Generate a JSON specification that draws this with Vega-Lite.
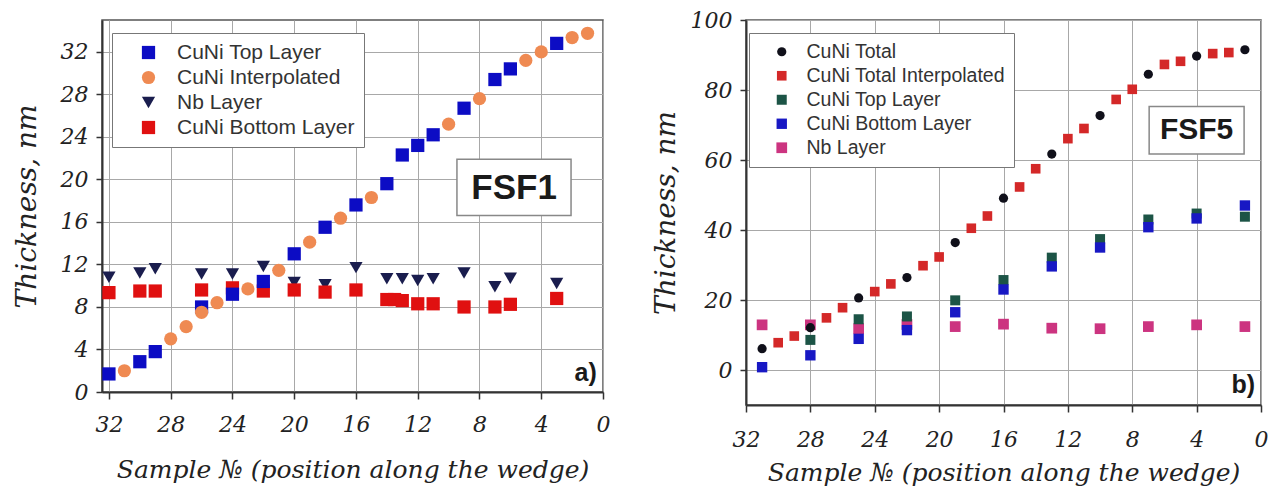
{
  "$schema": "https://vega.github.io/schema/vega-lite/v6.json",
  "background": "white",
  "padding": {"left": 12, "top": 8, "right": 0, "bottom": 0},
  "spacing": 40,
  "resolve": {
    "scale": {"x": "independent", "y": "independent", "color": "independent", "shape": "independent", "size": "independent"},
    "legend": {"color": "independent", "shape": "independent", "size": "independent"},
    "axis": {"x": "independent", "y": "independent"}
  },
  "config": {
    "view": {"stroke": "#555", "strokeWidth": 1.5},
    "axis": {
      "labelFont": "DejaVu Serif", "labelFontStyle": "italic", "labelFontSize": 22, "labelColor": "#222", "labelOverlap": false,
      "titleFont": "DejaVu Serif", "titleFontStyle": "italic", "titleFontSize": 25, "titleFontWeight": "normal", "titleColor": "#222",
      "domainColor": "#333", "domainWidth": 2, "tickColor": "#333", "tickWidth": 1.5, "gridWidth": 1
    },
    "legend": {
      "orient": "none", "title": null, "fillColor": "white", "strokeColor": "#777", "strokeWidth": 1,
      "labelFont": "Liberation Sans", "labelColor": "#333",
      "symbolStrokeWidth": 0, "padding": 9, "rowPadding": 3, "labelLimit": 400
    }
  },
  "datasets": {
    "fsf1": [
      {"series": "Nb Layer", "sample": 32, "thickness": 10.8},
      {"series": "Nb Layer", "sample": 30, "thickness": 11.2},
      {"series": "Nb Layer", "sample": 29, "thickness": 11.6},
      {"series": "Nb Layer", "sample": 26, "thickness": 11.1},
      {"series": "Nb Layer", "sample": 24, "thickness": 11.1},
      {"series": "Nb Layer", "sample": 22, "thickness": 11.8},
      {"series": "Nb Layer", "sample": 20, "thickness": 10.3},
      {"series": "Nb Layer", "sample": 18, "thickness": 10.1},
      {"series": "Nb Layer", "sample": 16, "thickness": 11.7},
      {"series": "Nb Layer", "sample": 14, "thickness": 10.65},
      {"series": "Nb Layer", "sample": 13, "thickness": 10.65},
      {"series": "Nb Layer", "sample": 12, "thickness": 10.5},
      {"series": "Nb Layer", "sample": 11, "thickness": 10.65},
      {"series": "Nb Layer", "sample": 9, "thickness": 11.2},
      {"series": "Nb Layer", "sample": 7, "thickness": 9.9},
      {"series": "Nb Layer", "sample": 6, "thickness": 10.7},
      {"series": "Nb Layer", "sample": 3, "thickness": 10.2},
      {"series": "CuNi Bottom Layer", "sample": 32, "thickness": 9.35},
      {"series": "CuNi Bottom Layer", "sample": 30, "thickness": 9.5},
      {"series": "CuNi Bottom Layer", "sample": 29, "thickness": 9.5},
      {"series": "CuNi Bottom Layer", "sample": 26, "thickness": 9.6},
      {"series": "CuNi Bottom Layer", "sample": 24, "thickness": 9.8},
      {"series": "CuNi Bottom Layer", "sample": 22, "thickness": 9.5},
      {"series": "CuNi Bottom Layer", "sample": 20, "thickness": 9.6},
      {"series": "CuNi Bottom Layer", "sample": 18, "thickness": 9.4},
      {"series": "CuNi Bottom Layer", "sample": 16, "thickness": 9.6},
      {"series": "CuNi Bottom Layer", "sample": 14, "thickness": 8.7},
      {"series": "CuNi Bottom Layer", "sample": 13.5, "thickness": 8.7},
      {"series": "CuNi Bottom Layer", "sample": 13, "thickness": 8.6},
      {"series": "CuNi Bottom Layer", "sample": 12, "thickness": 8.3},
      {"series": "CuNi Bottom Layer", "sample": 11, "thickness": 8.3},
      {"series": "CuNi Bottom Layer", "sample": 9, "thickness": 8.0},
      {"series": "CuNi Bottom Layer", "sample": 7, "thickness": 8.0},
      {"series": "CuNi Bottom Layer", "sample": 6, "thickness": 8.25},
      {"series": "CuNi Bottom Layer", "sample": 3, "thickness": 8.8},
      {"series": "CuNi Top Layer", "sample": 32, "thickness": 1.7},
      {"series": "CuNi Top Layer", "sample": 30, "thickness": 2.85},
      {"series": "CuNi Top Layer", "sample": 29, "thickness": 3.8},
      {"series": "CuNi Top Layer", "sample": 26, "thickness": 8.0},
      {"series": "CuNi Top Layer", "sample": 24, "thickness": 9.2},
      {"series": "CuNi Top Layer", "sample": 22, "thickness": 10.4},
      {"series": "CuNi Top Layer", "sample": 20, "thickness": 13.0},
      {"series": "CuNi Top Layer", "sample": 18, "thickness": 15.5},
      {"series": "CuNi Top Layer", "sample": 16, "thickness": 17.6},
      {"series": "CuNi Top Layer", "sample": 14, "thickness": 19.6},
      {"series": "CuNi Top Layer", "sample": 13, "thickness": 22.3},
      {"series": "CuNi Top Layer", "sample": 12, "thickness": 23.2},
      {"series": "CuNi Top Layer", "sample": 11, "thickness": 24.2},
      {"series": "CuNi Top Layer", "sample": 9, "thickness": 26.7},
      {"series": "CuNi Top Layer", "sample": 7, "thickness": 29.4},
      {"series": "CuNi Top Layer", "sample": 6, "thickness": 30.4},
      {"series": "CuNi Top Layer", "sample": 3, "thickness": 32.8},
      {"series": "CuNi Interpolated", "sample": 31, "thickness": 2.0},
      {"series": "CuNi Interpolated", "sample": 28, "thickness": 5.0},
      {"series": "CuNi Interpolated", "sample": 27, "thickness": 6.15},
      {"series": "CuNi Interpolated", "sample": 26, "thickness": 7.5},
      {"series": "CuNi Interpolated", "sample": 25, "thickness": 8.4},
      {"series": "CuNi Interpolated", "sample": 23, "thickness": 9.7},
      {"series": "CuNi Interpolated", "sample": 21, "thickness": 11.45},
      {"series": "CuNi Interpolated", "sample": 19, "thickness": 14.1},
      {"series": "CuNi Interpolated", "sample": 17, "thickness": 16.35},
      {"series": "CuNi Interpolated", "sample": 15, "thickness": 18.3},
      {"series": "CuNi Interpolated", "sample": 10, "thickness": 25.2},
      {"series": "CuNi Interpolated", "sample": 8, "thickness": 27.6},
      {"series": "CuNi Interpolated", "sample": 5, "thickness": 31.2},
      {"series": "CuNi Interpolated", "sample": 4, "thickness": 32.0},
      {"series": "CuNi Interpolated", "sample": 2, "thickness": 33.35},
      {"series": "CuNi Interpolated", "sample": 1, "thickness": 33.75}
    ],
    "fsf5": [
      {"series": "Nb Layer", "sample": 31, "thickness": 12.9},
      {"series": "Nb Layer", "sample": 28, "thickness": 12.9},
      {"series": "Nb Layer", "sample": 25, "thickness": 11.8},
      {"series": "Nb Layer", "sample": 22, "thickness": 13.0},
      {"series": "Nb Layer", "sample": 19, "thickness": 12.4},
      {"series": "Nb Layer", "sample": 16, "thickness": 13.1},
      {"series": "Nb Layer", "sample": 13, "thickness": 11.95},
      {"series": "Nb Layer", "sample": 10, "thickness": 11.8},
      {"series": "Nb Layer", "sample": 7, "thickness": 12.4},
      {"series": "Nb Layer", "sample": 4, "thickness": 12.9},
      {"series": "Nb Layer", "sample": 1, "thickness": 12.4},
      {"series": "CuNi Total Interpolated", "sample": 30, "thickness": 7.8},
      {"series": "CuNi Total Interpolated", "sample": 29, "thickness": 9.7},
      {"series": "CuNi Total Interpolated", "sample": 27, "thickness": 14.9},
      {"series": "CuNi Total Interpolated", "sample": 26, "thickness": 17.8},
      {"series": "CuNi Total Interpolated", "sample": 24, "thickness": 22.4},
      {"series": "CuNi Total Interpolated", "sample": 23, "thickness": 24.6},
      {"series": "CuNi Total Interpolated", "sample": 21, "thickness": 29.8},
      {"series": "CuNi Total Interpolated", "sample": 20, "thickness": 32.3},
      {"series": "CuNi Total Interpolated", "sample": 18, "thickness": 40.5},
      {"series": "CuNi Total Interpolated", "sample": 17, "thickness": 44.0},
      {"series": "CuNi Total Interpolated", "sample": 15, "thickness": 52.3},
      {"series": "CuNi Total Interpolated", "sample": 14, "thickness": 57.5},
      {"series": "CuNi Total Interpolated", "sample": 12, "thickness": 66.1},
      {"series": "CuNi Total Interpolated", "sample": 11, "thickness": 69.0},
      {"series": "CuNi Total Interpolated", "sample": 9, "thickness": 77.3},
      {"series": "CuNi Total Interpolated", "sample": 8, "thickness": 80.2},
      {"series": "CuNi Total Interpolated", "sample": 6, "thickness": 87.3},
      {"series": "CuNi Total Interpolated", "sample": 5, "thickness": 88.2},
      {"series": "CuNi Total Interpolated", "sample": 3, "thickness": 90.4},
      {"series": "CuNi Total Interpolated", "sample": 2, "thickness": 90.7},
      {"series": "CuNi Top Layer", "sample": 28, "thickness": 8.6},
      {"series": "CuNi Top Layer", "sample": 25, "thickness": 14.5},
      {"series": "CuNi Top Layer", "sample": 22, "thickness": 15.3},
      {"series": "CuNi Top Layer", "sample": 19, "thickness": 19.9},
      {"series": "CuNi Top Layer", "sample": 16, "thickness": 25.7},
      {"series": "CuNi Top Layer", "sample": 13, "thickness": 32.1},
      {"series": "CuNi Top Layer", "sample": 10, "thickness": 37.4},
      {"series": "CuNi Top Layer", "sample": 7, "thickness": 43.0},
      {"series": "CuNi Top Layer", "sample": 4, "thickness": 44.7},
      {"series": "CuNi Top Layer", "sample": 1, "thickness": 43.8},
      {"series": "CuNi Bottom Layer", "sample": 31, "thickness": 0.8},
      {"series": "CuNi Bottom Layer", "sample": 28, "thickness": 4.2},
      {"series": "CuNi Bottom Layer", "sample": 25, "thickness": 8.9},
      {"series": "CuNi Bottom Layer", "sample": 22, "thickness": 11.4},
      {"series": "CuNi Bottom Layer", "sample": 19, "thickness": 16.5},
      {"series": "CuNi Bottom Layer", "sample": 16, "thickness": 23.0},
      {"series": "CuNi Bottom Layer", "sample": 13, "thickness": 29.6},
      {"series": "CuNi Bottom Layer", "sample": 10, "thickness": 35.0},
      {"series": "CuNi Bottom Layer", "sample": 7, "thickness": 40.8},
      {"series": "CuNi Bottom Layer", "sample": 4, "thickness": 43.3},
      {"series": "CuNi Bottom Layer", "sample": 1, "thickness": 47.0},
      {"series": "CuNi Total", "sample": 31, "thickness": 6.1},
      {"series": "CuNi Total", "sample": 28, "thickness": 12.1},
      {"series": "CuNi Total", "sample": 25, "thickness": 20.6},
      {"series": "CuNi Total", "sample": 22, "thickness": 26.4},
      {"series": "CuNi Total", "sample": 19, "thickness": 36.4},
      {"series": "CuNi Total", "sample": 16, "thickness": 49.1},
      {"series": "CuNi Total", "sample": 13, "thickness": 61.7},
      {"series": "CuNi Total", "sample": 10, "thickness": 72.7},
      {"series": "CuNi Total", "sample": 7, "thickness": 84.5},
      {"series": "CuNi Total", "sample": 4, "thickness": 89.7},
      {"series": "CuNi Total", "sample": 1, "thickness": 91.5}
    ]
  },
  "hconcat": [
    {
      "width": 501,
      "height": 372,
      "layer": [
        {
          "data": {"name": "fsf1"},
          "mark": {"type": "point", "filled": true, "opacity": 1},
          "encoding": {
            "x": {
              "field": "sample", "type": "quantitative",
              "scale": {"domain": [0, 32.45], "reverse": true, "nice": false, "zero": false},
              "title": "Sample № (position along the wedge)",
              "axis": {
                "values": [0, 2, 4, 6, 8, 10, 12, 14, 16, 18, 20, 22, 24, 26, 28, 30, 32],
                "labelExpr": "datum.value % 4 === 0 ? datum.label : ''",
                "gridColor": {"condition": {"test": "datum.value % 4 === 0", "value": "#a8a8a8"}, "value": "#e4e4e4"},
                "tickSize": {"condition": {"test": "datum.value % 4 === 0", "value": 7}, "value": 4},
                "labelPadding": 15, "titlePadding": 22, "labelFlush": false, "labelOverlap": false
              }
            },
            "y": {
              "field": "thickness", "type": "quantitative",
              "scale": {"domain": [0, 35], "nice": false, "zero": false},
              "title": "Thickness, nm",
              "axis": {
                "values": [0, 2, 4, 6, 8, 10, 12, 14, 16, 18, 20, 22, 24, 26, 28, 30, 32, 34],
                "labelExpr": "datum.value % 4 === 0 ? datum.label : ''",
                "gridColor": {"condition": {"test": "datum.value % 4 === 0", "value": "#a8a8a8"}, "value": "#e4e4e4"},
                "tickSize": {"condition": {"test": "datum.value % 4 === 0", "value": 6}, "value": 3},
                "labelPadding": 8, "titlePadding": 19, "titleFontSize": 28, "labelOverlap": false
              }
            },
            "color": {
              "field": "series", "type": "nominal",
              "scale": {"domain": ["CuNi Top Layer", "CuNi Interpolated", "Nb Layer", "CuNi Bottom Layer"], "range": ["#0c0cc4", "#ef8a52", "#1a1d4e", "#e01010"]},
              "legend": {"legendX": 10, "legendY": 13, "symbolSize": 130, "labelFontSize": 21, "symbolOffset": 17, "labelOffset": 18}
            },
            "shape": {
              "field": "series", "type": "nominal",
              "scale": {"domain": ["CuNi Top Layer", "CuNi Interpolated", "Nb Layer", "CuNi Bottom Layer"], "range": ["square", "circle", "triangle-down", "square"]}
            },
            "size": {
              "field": "series", "type": "ordinal",
              "scale": {"domain": ["CuNi Top Layer", "CuNi Interpolated", "Nb Layer", "CuNi Bottom Layer"], "range": [175, 175, 120, 170]},
              "legend": null
            }
          }
        },
        {
          "data": {"values": [{}]},
          "mark": {"type": "rect", "fill": "white", "stroke": "#888", "strokeWidth": 1.5},
          "encoding": {"x": {"datum": 9.46}, "x2": {"datum": 2.07}, "y": {"datum": 21.9}, "y2": {"datum": 16.6}}
        },
        {
          "data": {"values": [{}]},
          "mark": {"type": "text", "text": "FSF1", "font": "Liberation Sans", "fontWeight": "bold", "fontSize": 35, "color": "#1a1a1a", "align": "center", "baseline": "middle"},
          "encoding": {"x": {"datum": 5.76}, "y": {"datum": 19.2}}
        },
        {
          "data": {"values": [{}]},
          "mark": {"type": "text", "text": "a)", "font": "Liberation Sans", "fontWeight": "bold", "fontSize": 25, "color": "#1a1a1a", "align": "right", "baseline": "middle"},
          "encoding": {"x": {"datum": 0.4}, "y": {"datum": 1.8}}
        }
      ]
    },
    {
      "width": 515,
      "height": 385,
      "layer": [
        {
          "data": {"name": "fsf5"},
          "mark": {"type": "point", "filled": true, "opacity": 1},
          "encoding": {
            "x": {
              "field": "sample", "type": "quantitative",
              "scale": {"domain": [0, 32], "reverse": true, "nice": false, "zero": false},
              "title": "Sample № (position along the wedge)",
              "axis": {
                "values": [0, 2, 4, 6, 8, 10, 12, 14, 16, 18, 20, 22, 24, 26, 28, 30, 32],
                "labelExpr": "datum.value % 4 === 0 ? datum.label : ''",
                "gridColor": {"condition": {"test": "datum.value % 4 === 0", "value": "#a8a8a8"}, "value": "#e4e4e4"},
                "tickSize": {"condition": {"test": "datum.value % 4 === 0", "value": 7}, "value": 4},
                "labelPadding": 17, "titlePadding": 10, "labelFlush": false, "labelOverlap": false
              }
            },
            "y": {
              "field": "thickness", "type": "quantitative",
              "scale": {"domain": [-10, 100], "nice": false, "zero": false},
              "title": "Thickness, nm",
              "axis": {
                "values": [0, 10, 20, 30, 40, 50, 60, 70, 80, 90, 100],
                "labelExpr": "datum.value % 20 === 0 ? datum.label : ''",
                "gridColor": {"condition": {"test": "datum.value % 20 === 0", "value": "#a8a8a8"}, "value": "#e4e4e4"},
                "tickSize": {"condition": {"test": "datum.value % 20 === 0", "value": 6}, "value": 3},
                "labelPadding": 8, "titlePadding": 10, "titleFontSize": 28, "labelOverlap": false
              }
            },
            "color": {
              "field": "series", "type": "nominal",
              "scale": {"domain": ["CuNi Total", "CuNi Total Interpolated", "CuNi Top Layer", "CuNi Bottom Layer", "Nb Layer"], "range": ["#10101a", "#d42828", "#1c5446", "#1818c4", "#cc3480"]},
              "legend": {"legendX": 3, "legendY": 13, "symbolSize": 90, "labelFontSize": 19.5, "symbolOffset": 14, "labelOffset": 15}
            },
            "shape": {
              "field": "series", "type": "nominal",
              "scale": {"domain": ["CuNi Total", "CuNi Total Interpolated", "CuNi Top Layer", "CuNi Bottom Layer", "Nb Layer"], "range": ["circle", "square", "square", "square", "square"]}
            },
            "size": {
              "field": "series", "type": "ordinal",
              "scale": {"domain": ["CuNi Total", "CuNi Total Interpolated", "CuNi Top Layer", "CuNi Bottom Layer", "Nb Layer"], "range": [85, 115, 115, 115, 110]},
              "legend": null
            }
          }
        },
        {
          "data": {"values": [{}]},
          "mark": {"type": "rect", "fill": "white", "stroke": "#888", "strokeWidth": 1.5},
          "encoding": {"x": {"datum": 6.95}, "x2": {"datum": 1.05}, "y": {"datum": 75.3}, "y2": {"datum": 61.7}}
        },
        {
          "data": {"values": [{}]},
          "mark": {"type": "text", "text": "FSF5", "font": "Liberation Sans", "fontWeight": "bold", "fontSize": 30, "color": "#1a1a1a", "align": "center", "baseline": "middle"},
          "encoding": {"x": {"datum": 4.0}, "y": {"datum": 68.5}}
        },
        {
          "data": {"values": [{}]},
          "mark": {"type": "text", "text": "b)", "font": "Liberation Sans", "fontWeight": "bold", "fontSize": 25, "color": "#1a1a1a", "align": "right", "baseline": "middle"},
          "encoding": {"x": {"datum": 0.37}, "y": {"datum": -4.2}}
        }
      ]
    }
  ]
}
